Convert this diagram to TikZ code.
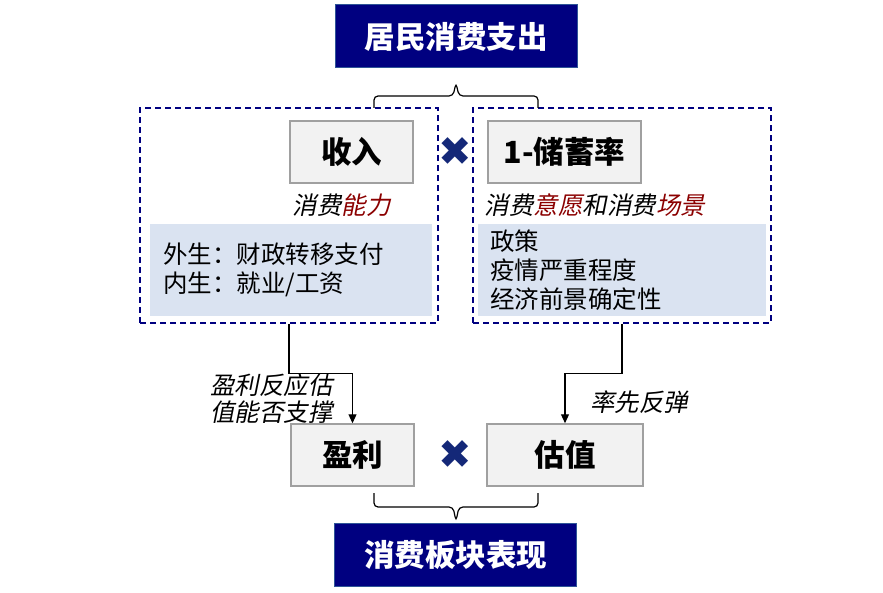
\documentclass[tikz,border=0pt]{standalone}
\usepackage{fontspec}
\setmainfont{Liberation Sans}
\newfontfamily\cjk{Noto Sans CJK SC}
\newfontfamily\cjkit[FakeSlant=0.2]{Noto Sans CJK SC}
\newfontfamily\symfont{DejaVu Sans}
\usetikzlibrary{arrows.meta}
\usetikzlibrary{calc}

\definecolor{navybox}{RGB}{0,0,128}
\definecolor{navyedge}{RGB}{47,85,151}
\definecolor{boxgray}{RGB}{242,242,242}
\definecolor{boxedge}{RGB}{160,160,160}
\definecolor{paleblue}{RGB}{218,227,241}
\definecolor{darkred}{RGB}{139,0,0}
\definecolor{crossblue}{RGB}{20,40,120}

\begin{document}
\begin{tikzpicture}[x=1pt,y=-1pt]
    \tikzstyle{title}=[fill=navybox,draw=navyedge,line width=1pt,text=white,font=\cjk\bfseries\fontsize{30.5}{30.5}\selectfont,minimum width=242pt,minimum height=63pt,inner sep=0pt]
    \tikzstyle{factor}=[fill=boxgray,draw=boxedge,line width=1.5pt,font=\cjk\bfseries\fontsize{30.5}{30.5}\selectfont,minimum height=62pt,inner sep=0pt]
    \tikzstyle{group}=[draw=navybox,line width=1.3pt,dash pattern=on 6pt off 4pt,minimum width=298pt,minimum height=215pt,inner sep=0pt]
    \tikzstyle{detail}=[fill=paleblue,font=\cjk\fontsize{24.5}{29}\selectfont,align=left,minimum height=92pt,inner sep=0pt]
    \tikzstyle{tag}=[font=\cjkit\fontsize{24.5}{27}\selectfont,inner sep=0pt]
    \tikzstyle{times}=[text=crossblue,font=\symfont\fontsize{40}{40}\selectfont,inner sep=0pt]
    \tikzstyle{edge}=[draw=black,line width=1.2pt,-{Triangle[length=9pt,width=8pt]}]
    \tikzstyle{bracket}=[draw=black,line width=1.2pt,rounded corners=4pt]

    \useasboundingbox (0,0) rectangle (883,593);

    % top: spending and its two factors
    \node[title] (spend) at (456,36.5) {居民消费支出};

    \node[group] (capacity) at (289,215.5) {};
    \node[group] (willing)  at (622,215.5) {};

    \node[factor,minimum width=123pt] (income) at (351.5,152) {收入};
    \node[factor,minimum width=153pt] (saving) at (564.5,152) {1-储蓄率};
    \node[times] (times1) at (455,152) {✖};

    \node[tag,anchor=east] (capnote) at (391,205) {消费\textcolor{darkred}{能力}};
    \node[tag] (willnote) at (595,205) {消费\textcolor{darkred}{意愿}和消费\textcolor{darkred}{场景}};

    \node[detail,text width=256pt,minimum width=282pt,inner xsep=13pt] (capdetail) at (291,270)
        {外生：财政转移支付\\内生：就业/工资};
    \node[detail,text width=264pt,minimum width=288pt,inner xsep=12pt] (willdetail) at (622,270)
        {政策\\疫情严重程度\\经济前景确定性};

    % bottom: sector performance
    \node[factor,minimum width=123pt] (profit) at (352.5,455) {盈利};
    \node[factor,minimum width=156pt] (value)  at (565,455) {估值};
    \node[times] (times2) at (455,455) {✖};

    \node[title] (perf) at (455.5,554.5) {消费板块表现};

    \node[tag,align=right,anchor=east] (proflabel) at (333,398.5) {盈利反应估\\值能否支撑};
    \node[tag] (vallabel) at (639,402) {率先反弹};

    \path[edge] (capacity.south) -- ++(0,50) -| (profit.north);
    \path[edge] (willing.south) -- ++(0,50) -| (value.north);

    % braces
    \coordinate (tl) at (374,108);
    \coordinate (tr) at (538,108);
    \coordinate (tm) at ($(tl)!0.5!(tr)$);
    \coordinate (bl) at (374,493);
    \coordinate (br) at (538,493);
    \coordinate (bm) at ($(bl)!0.5!(br)$);
    \path[bracket] (tl) -- ++(0,-12) -- ($(tm)+(-3,-12)$) -- ($(tm)+(0,-25)$)
        -- ($(tm)+(3,-12)$) -- ($(tr)+(0,-12)$) -- (tr);
    \path[bracket] (bl) -- ++(0,14) -- ($(bm)+(-3,14)$) -- ($(bm)+(0,28)$)
        -- ($(bm)+(3,14)$) -- ($(br)+(0,14)$) -- (br);
\end{tikzpicture}
\end{document}
